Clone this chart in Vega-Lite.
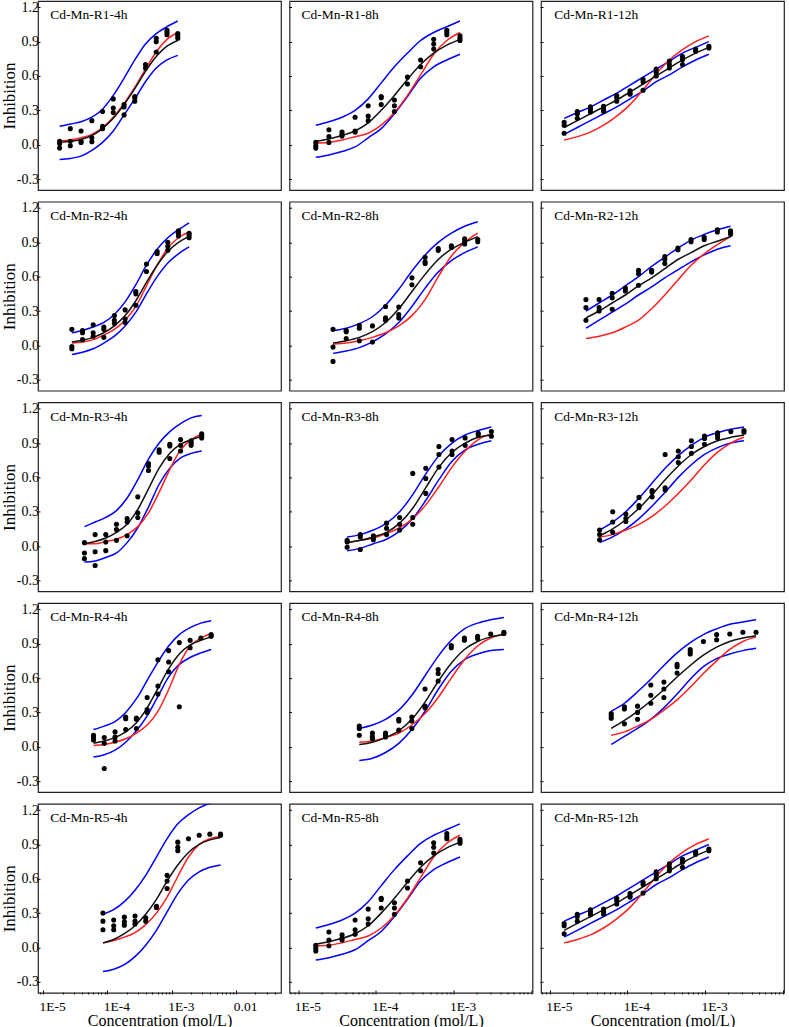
{
"$schema": "https://vega.github.io/schema/vega-lite/v6.json",
"padding": {"left": 0, "top": 0, "right": 0, "bottom": 0},
"spacing": 5.5,
"config": {
  "view": {"stroke": "#222", "strokeWidth": 1.2},
  "axis": {"labelFont": "Liberation Serif", "titleFont": "Liberation Serif", "labelColor": "#000", "titleColor": "#000", "titleFontWeight": "normal", "tickColor": "#000", "tickWidth": 1, "grid": false, "domain": false, "labelFlush": false, "labelOverlap": false},
  "text": {"font": "Liberation Serif"}
},
"datasets": {"d": [
{"run":"R1","t":"4h","name":"Cd-Mn-R1-4h","x":1.8e-5,"a":0.03,"b":0.01,"c":-0.03,"f":0.02,"r":0.03,"u":0.16,"l":-0.13},
{"run":"R1","t":"4h","x":2.64e-5,"a":0.14,"b":0.03,"c":-0.01,"f":0.03,"r":0.04,"u":0.18,"l":-0.12},
{"run":"R1","t":"4h","x":3.88e-5,"a":0.12,"b":0.03,"c":0.02,"f":0.045,"r":0.06,"u":0.20,"l":-0.10},
{"run":"R1","t":"4h","x":5.71e-5,"a":0.21,"b":0.06,"c":0.025,"f":0.08,"r":0.09,"u":0.24,"l":-0.05},
{"run":"R1","t":"4h","x":8.38e-5,"a":0.29,"b":0.16,"c":0.14,"f":0.14,"r":0.15,"u":0.31,"l":0.02},
{"run":"R1","t":"4h","x":1.23e-4,"a":0.40,"b":0.32,"c":0.28,"f":0.23,"r":0.24,"u":0.43,"l":0.12},
{"run":"R1","t":"4h","x":1.81e-4,"a":0.35,"b":0.33,"c":0.26,"f":0.35,"r":0.36,"u":0.58,"l":0.26},
{"run":"R1","t":"4h","x":2.66e-4,"a":0.42,"b":0.41,"c":0.38,"f":0.49,"r":0.50,"u":0.74,"l":0.40},
{"run":"R1","t":"4h","x":3.9e-4,"a":0.70,"b":0.67,"c":null,"f":0.64,"r":0.66,"u":0.88,"l":0.55},
{"run":"R1","t":"4h","x":5.73e-4,"a":0.93,"b":0.90,"c":0.81,"f":0.77,"r":0.81,"u":0.97,"l":0.67},
{"run":"R1","t":"4h","x":8.42e-4,"a":1.0,"b":0.98,"c":0.96,"f":0.86,"r":0.92,"u":1.03,"l":0.74},
{"run":"R1","t":"4h","x":1.24e-3,"a":0.97,"b":0.95,"c":0.93,"f":0.91,"r":0.98,"u":1.08,"l":0.78},

{"run":"R1","t":"8h","name":"Cd-Mn-R1-8h","x":1.68e-5,"a":0.02,"b":-0.01,"c":-0.03,"f":0.03,"r":0.015,"u":0.17,"l":-0.11},
{"run":"R1","t":"8h","x":2.48e-5,"a":0.13,"b":0.07,"c":0.02,"f":0.05,"r":0.02,"u":0.20,"l":-0.09},
{"run":"R1","t":"8h","x":3.66e-5,"a":0.11,"b":0.09,"c":0.075,"f":0.08,"r":0.04,"u":0.24,"l":-0.06},
{"run":"R1","t":"8h","x":5.39e-5,"a":0.24,"b":0.12,"c":0.11,"f":0.12,"r":0.07,"u":0.30,"l":-0.02},
{"run":"R1","t":"8h","x":7.95e-5,"a":0.34,"b":0.25,"c":0.21,"f":0.19,"r":0.10,"u":0.40,"l":0.06},
{"run":"R1","t":"8h","x":1.17e-4,"a":0.42,"b":0.41,"c":0.35,"f":0.30,"r":0.17,"u":0.54,"l":0.14},
{"run":"R1","t":"8h","x":1.73e-4,"a":0.39,"b":0.34,"c":0.29,"f":0.43,"r":0.28,"u":0.68,"l":0.27},
{"run":"R1","t":"8h","x":2.55e-4,"a":0.59,"b":0.53,"c":null,"f":0.57,"r":0.43,"u":0.80,"l":0.42},
{"run":"R1","t":"8h","x":3.76e-4,"a":0.74,"b":0.68,"c":null,"f":0.70,"r":0.61,"u":0.91,"l":0.58},
{"run":"R1","t":"8h","x":5.55e-4,"a":0.92,"b":0.88,"c":0.835,"f":0.80,"r":0.79,"u":0.98,"l":0.68},
{"run":"R1","t":"8h","x":8.19e-4,"a":1.0,"b":0.98,"c":0.96,"f":0.87,"r":0.91,"u":1.03,"l":0.74},
{"run":"R1","t":"8h","x":1.21e-3,"a":0.95,"b":0.93,"c":0.91,"f":0.92,"r":0.98,"u":1.08,"l":0.79},

{"run":"R1","t":"12h","name":"Cd-Mn-R1-12h","x":1.53e-5,"a":0.195,"b":0.17,"c":0.10,"f":0.15,"r":0.04,"u":0.23,"l":0.09},
{"run":"R1","t":"12h","x":2.26e-5,"a":0.29,"b":0.27,"c":0.23,"f":0.21,"r":0.07,"u":0.28,"l":0.15},
{"run":"R1","t":"12h","x":3.34e-5,"a":0.33,"b":0.31,"c":0.285,"f":0.27,"r":0.11,"u":0.33,"l":0.21},
{"run":"R1","t":"12h","x":4.93e-5,"a":0.335,"b":0.31,"c":0.29,"f":0.33,"r":0.17,"u":0.39,"l":0.27},
{"run":"R1","t":"12h","x":7.28e-5,"a":0.43,"b":0.41,"c":0.38,"f":0.39,"r":0.25,"u":0.45,"l":0.33},
{"run":"R1","t":"12h","x":1.08e-4,"a":0.47,"b":0.45,"c":0.44,"f":0.46,"r":0.35,"u":0.52,"l":0.40},
{"run":"R1","t":"12h","x":1.59e-4,"a":0.57,"b":0.55,"c":0.475,"f":0.53,"r":0.48,"u":0.59,"l":0.47},
{"run":"R1","t":"12h","x":2.35e-4,"a":0.66,"b":0.63,"c":0.60,"f":0.60,"r":0.62,"u":0.66,"l":0.55},
{"run":"R1","t":"12h","x":3.47e-4,"a":0.73,"b":0.70,"c":0.67,"f":0.67,"r":0.74,"u":0.73,"l":0.61},
{"run":"R1","t":"12h","x":5.12e-4,"a":0.77,"b":0.745,"c":0.70,"f":0.74,"r":0.83,"u":0.80,"l":0.68},
{"run":"R1","t":"12h","x":7.57e-4,"a":0.835,"b":0.815,"c":null,"f":0.80,"r":0.90,"u":0.85,"l":0.74},
{"run":"R1","t":"12h","x":1.12e-3,"a":0.86,"b":0.845,"c":null,"f":0.85,"r":0.95,"u":0.90,"l":0.79},

{"run":"R2","t":"4h","name":"Cd-Mn-R2-4h","x":2.79e-5,"a":0.14,"b":-0.01,"c":-0.03,"f":0.03,"r":0.02,"u":0.11,"l":-0.08},
{"run":"R2","t":"4h","x":4.09e-5,"a":0.13,"b":0.11,"c":0.05,"f":0.045,"r":0.03,"u":0.13,"l":-0.06},
{"run":"R2","t":"4h","x":5.99e-5,"a":0.18,"b":0.11,"c":0.08,"f":0.07,"r":0.05,"u":0.16,"l":-0.03},
{"run":"R2","t":"4h","x":8.77e-5,"a":0.16,"b":0.14,"c":0.07,"f":0.11,"r":0.09,"u":0.20,"l":0.02},
{"run":"R2","t":"4h","x":1.28e-4,"a":0.26,"b":0.22,"c":0.19,"f":0.17,"r":0.14,"u":0.27,"l":0.08},
{"run":"R2","t":"4h","x":1.88e-4,"a":0.31,"b":0.23,"c":0.20,"f":0.26,"r":0.22,"u":0.38,"l":0.17},
{"run":"R2","t":"4h","x":2.76e-4,"a":0.47,"b":0.45,"c":0.35,"f":0.39,"r":0.34,"u":0.53,"l":0.29},
{"run":"R2","t":"4h","x":4.04e-4,"a":0.71,"b":0.645,"c":null,"f":0.55,"r":0.52,"u":0.70,"l":0.45},
{"run":"R2","t":"4h","x":5.92e-4,"a":0.82,"b":0.80,"c":null,"f":0.70,"r":0.70,"u":0.84,"l":0.60},
{"run":"R2","t":"4h","x":8.67e-4,"a":0.90,"b":0.865,"c":0.83,"f":0.82,"r":0.85,"u":0.94,"l":0.72},
{"run":"R2","t":"4h","x":1.27e-3,"a":1.0,"b":0.98,"c":0.955,"f":0.90,"r":0.94,"u":1.01,"l":0.80},
{"run":"R2","t":"4h","x":1.86e-3,"a":0.98,"b":0.96,"c":0.94,"f":0.95,"r":0.99,"u":1.07,"l":0.86},

{"run":"R2","t":"8h","name":"Cd-Mn-R2-8h","x":2.8e-5,"a":0.14,"b":-0.015,"c":-0.14,"f":0.02,"r":0.01,"u":0.13,"l":-0.07},
{"run":"R2","t":"8h","x":4.14e-5,"a":0.13,"b":0.12,"c":0.06,"f":0.04,"r":0.02,"u":0.15,"l":-0.05},
{"run":"R2","t":"8h","x":6.11e-5,"a":0.175,"b":0.15,"c":0.04,"f":0.07,"r":0.04,"u":0.19,"l":-0.02},
{"run":"R2","t":"8h","x":9.02e-5,"a":0.17,"b":0.03,"c":null,"f":0.12,"r":0.07,"u":0.25,"l":0.03},
{"run":"R2","t":"8h","x":1.33e-4,"a":0.34,"b":0.24,"c":0.22,"f":0.20,"r":0.11,"u":0.35,"l":0.10},
{"run":"R2","t":"8h","x":1.97e-4,"a":0.335,"b":0.27,"c":0.24,"f":0.32,"r":0.17,"u":0.49,"l":0.20},
{"run":"R2","t":"8h","x":2.91e-4,"a":0.59,"b":0.53,"c":null,"f":0.47,"r":0.26,"u":0.65,"l":0.34},
{"run":"R2","t":"8h","x":4.3e-4,"a":0.77,"b":0.73,"c":0.715,"f":0.62,"r":0.40,"u":0.79,"l":0.50},
{"run":"R2","t":"8h","x":6.35e-4,"a":0.845,"b":0.83,"c":null,"f":0.75,"r":0.60,"u":0.90,"l":0.64},
{"run":"R2","t":"8h","x":9.38e-4,"a":0.87,"b":0.855,"c":null,"f":0.84,"r":0.78,"u":0.98,"l":0.74},
{"run":"R2","t":"8h","x":1.39e-3,"a":0.93,"b":0.905,"c":0.885,"f":0.90,"r":0.90,"u":1.04,"l":0.81},
{"run":"R2","t":"8h","x":2.05e-3,"a":0.925,"b":0.905,"c":null,"f":0.95,"r":0.98,"u":1.08,"l":0.86},

{"run":"R2","t":"12h","name":"Cd-Mn-R2-12h","x":2.92e-5,"a":0.40,"b":0.33,"c":0.22,"f":0.24,"r":0.06,"u":0.30,"l":0.15},
{"run":"R2","t":"12h","x":4.31e-5,"a":0.40,"b":0.33,"c":0.30,"f":0.30,"r":0.08,"u":0.37,"l":0.22},
{"run":"R2","t":"12h","x":6.37e-5,"a":0.455,"b":0.415,"c":0.315,"f":0.37,"r":0.11,"u":0.44,"l":0.29},
{"run":"R2","t":"12h","x":9.4e-5,"a":0.50,"b":0.475,"c":null,"f":0.44,"r":0.16,"u":0.52,"l":0.36},
{"run":"R2","t":"12h","x":1.39e-4,"a":0.655,"b":0.625,"c":0.525,"f":0.52,"r":0.22,"u":0.60,"l":0.44},
{"run":"R2","t":"12h","x":2.05e-4,"a":0.655,"b":0.64,"c":null,"f":0.59,"r":0.32,"u":0.69,"l":0.51},
{"run":"R2","t":"12h","x":3.03e-4,"a":0.775,"b":0.75,"c":0.715,"f":0.67,"r":0.44,"u":0.77,"l":0.59},
{"run":"R2","t":"12h","x":4.47e-4,"a":0.85,"b":0.835,"c":null,"f":0.75,"r":0.57,"u":0.85,"l":0.66},
{"run":"R2","t":"12h","x":6.6e-4,"a":0.925,"b":0.905,"c":null,"f":0.81,"r":0.70,"u":0.92,"l":0.73},
{"run":"R2","t":"12h","x":9.75e-4,"a":0.945,"b":0.925,"c":null,"f":0.87,"r":0.80,"u":0.97,"l":0.79},
{"run":"R2","t":"12h","x":1.44e-3,"a":1.01,"b":0.99,"c":null,"f":0.91,"r":0.88,"u":1.01,"l":0.84},
{"run":"R2","t":"12h","x":2.13e-3,"a":1.0,"b":0.985,"c":0.97,"f":0.95,"r":0.95,"u":1.04,"l":0.87},

{"run":"R3","t":"4h","name":"Cd-Mn-R3-4h","x":4.38e-5,"a":0.03,"b":-0.06,"c":-0.11,"f":0.02,"r":0.02,"u":0.17,"l":-0.14},
{"run":"R3","t":"4h","x":6.42e-5,"a":0.10,"b":-0.05,"c":-0.17,"f":0.04,"r":0.02,"u":0.21,"l":-0.13},
{"run":"R3","t":"4h","x":9.41e-5,"a":0.10,"b":0.035,"c":-0.04,"f":0.07,"r":0.04,"u":0.25,"l":-0.10},
{"run":"R3","t":"4h","x":1.38e-4,"a":0.19,"b":0.145,"c":0.05,"f":0.12,"r":0.06,"u":0.31,"l":-0.06},
{"run":"R3","t":"4h","x":2.02e-4,"a":0.24,"b":0.21,"c":0.09,"f":0.19,"r":0.10,"u":0.42,"l":0.03},
{"run":"R3","t":"4h","x":2.96e-4,"a":0.43,"b":0.29,"c":0.25,"f":0.32,"r":0.17,"u":0.58,"l":0.16},
{"run":"R3","t":"4h","x":4.34e-4,"a":0.72,"b":0.70,"c":0.66,"f":0.50,"r":0.29,"u":0.76,"l":0.34},
{"run":"R3","t":"4h","x":6.36e-4,"a":0.84,"b":0.82,"c":null,"f":0.68,"r":0.47,"u":0.90,"l":0.54},
{"run":"R3","t":"4h","x":9.32e-4,"a":0.89,"b":0.875,"c":0.765,"f":0.81,"r":0.67,"u":1.00,"l":0.68},
{"run":"R3","t":"4h","x":1.37e-3,"a":0.93,"b":0.88,"c":0.83,"f":0.89,"r":0.84,"u":1.07,"l":0.77},
{"run":"R3","t":"4h","x":2.0e-3,"a":0.92,"b":0.90,"c":0.88,"f":0.93,"r":0.93,"u":1.12,"l":0.81},
{"run":"R3","t":"4h","x":2.92e-3,"a":0.98,"b":0.965,"c":0.945,"f":0.96,"r":0.98,"u":1.14,"l":0.83},

{"run":"R3","t":"8h","name":"Cd-Mn-R3-8h","x":4.26e-5,"a":0.05,"b":0.035,"c":-0.01,"f":0.03,"r":0.03,"u":0.08,"l":-0.04},
{"run":"R3","t":"8h","x":6.29e-5,"a":0.10,"b":0.08,"c":-0.03,"f":0.05,"r":0.05,"u":0.10,"l":-0.02},
{"run":"R3","t":"8h","x":9.27e-5,"a":0.09,"b":0.07,"c":0.055,"f":0.08,"r":0.07,"u":0.14,"l":0.02},
{"run":"R3","t":"8h","x":1.37e-4,"a":0.20,"b":0.155,"c":0.10,"f":0.12,"r":0.11,"u":0.20,"l":0.06},
{"run":"R3","t":"8h","x":2.02e-4,"a":0.25,"b":0.19,"c":0.14,"f":0.20,"r":0.16,"u":0.30,"l":0.13},
{"run":"R3","t":"8h","x":2.98e-4,"a":0.635,"b":0.25,"c":0.19,"f":0.33,"r":0.24,"u":0.45,"l":0.24},
{"run":"R3","t":"8h","x":4.39e-4,"a":0.68,"b":0.59,"c":0.46,"f":0.51,"r":0.36,"u":0.63,"l":0.40},
{"run":"R3","t":"8h","x":6.48e-4,"a":0.87,"b":0.80,"c":0.69,"f":0.69,"r":0.52,"u":0.79,"l":0.58},
{"run":"R3","t":"8h","x":9.56e-4,"a":0.93,"b":0.83,"c":0.80,"f":0.82,"r":0.69,"u":0.90,"l":0.74},
{"run":"R3","t":"8h","x":1.41e-3,"a":0.945,"b":0.88,"c":null,"f":0.90,"r":0.83,"u":0.97,"l":0.84},
{"run":"R3","t":"8h","x":2.08e-3,"a":0.985,"b":0.97,"c":null,"f":0.95,"r":0.93,"u":1.01,"l":0.89},
{"run":"R3","t":"8h","x":3.07e-3,"a":1.0,"b":0.96,"c":null,"f":0.97,"r":0.98,"u":1.04,"l":0.92},

{"run":"R3","t":"12h","name":"Cd-Mn-R3-12h","x":4.38e-5,"a":0.14,"b":0.10,"c":0.055,"f":0.09,"r":0.08,"u":0.14,"l":0.03},
{"run":"R3","t":"12h","x":6.46e-5,"a":0.30,"b":0.21,"c":0.12,"f":0.15,"r":0.10,"u":0.21,"l":0.08},
{"run":"R3","t":"12h","x":9.54e-5,"a":0.28,"b":0.24,"c":0.215,"f":0.23,"r":0.14,"u":0.30,"l":0.15},
{"run":"R3","t":"12h","x":1.41e-4,"a":0.425,"b":0.355,"c":0.335,"f":0.33,"r":0.19,"u":0.42,"l":0.24},
{"run":"R3","t":"12h","x":2.08e-4,"a":0.485,"b":0.47,"c":0.43,"f":0.45,"r":0.26,"u":0.55,"l":0.35},
{"run":"R3","t":"12h","x":3.06e-4,"a":0.80,"b":0.51,"c":0.49,"f":0.58,"r":0.35,"u":0.68,"l":0.47},
{"run":"R3","t":"12h","x":4.52e-4,"a":0.83,"b":0.78,"c":0.73,"f":0.70,"r":0.46,"u":0.79,"l":0.60},
{"run":"R3","t":"12h","x":6.67e-4,"a":0.92,"b":0.87,"c":0.81,"f":0.80,"r":0.58,"u":0.88,"l":0.71},
{"run":"R3","t":"12h","x":9.84e-4,"a":0.96,"b":0.94,"c":0.89,"f":0.87,"r":0.71,"u":0.95,"l":0.80},
{"run":"R3","t":"12h","x":1.45e-3,"a":0.99,"b":0.97,"c":0.945,"f":0.92,"r":0.82,"u":0.99,"l":0.86},
{"run":"R3","t":"12h","x":2.15e-3,"a":1.0,"b":null,"c":null,"f":0.95,"r":0.90,"u":1.02,"l":0.90},
{"run":"R3","t":"12h","x":3.17e-3,"a":1.01,"b":0.995,"c":null,"f":0.97,"r":0.95,"u":1.04,"l":0.92},

{"run":"R4","t":"4h","name":"Cd-Mn-R4-4h","x":6.06e-5,"a":0.10,"b":0.085,"c":0.06,"f":0.03,"r":0.01,"u":0.15,"l":-0.09},
{"run":"R4","t":"4h","x":8.9e-5,"a":0.08,"b":0.03,"c":-0.19,"f":0.05,"r":0.02,"u":0.18,"l":-0.07},
{"run":"R4","t":"4h","x":1.31e-4,"a":0.13,"b":0.085,"c":0.05,"f":0.08,"r":0.04,"u":0.22,"l":-0.03},
{"run":"R4","t":"4h","x":1.92e-4,"a":0.26,"b":0.245,"c":0.15,"f":0.13,"r":0.07,"u":0.30,"l":0.04},
{"run":"R4","t":"4h","x":2.82e-4,"a":0.25,"b":0.24,"c":0.16,"f":0.21,"r":0.12,"u":0.42,"l":0.14},
{"run":"R4","t":"4h","x":4.14e-4,"a":0.43,"b":0.325,"c":0.30,"f":0.34,"r":0.19,"u":0.58,"l":0.27},
{"run":"R4","t":"4h","x":6.09e-4,"a":0.76,"b":0.53,"c":0.46,"f":0.51,"r":0.31,"u":0.74,"l":0.44},
{"run":"R4","t":"4h","x":8.94e-4,"a":0.84,"b":0.74,"c":0.655,"f":0.68,"r":0.50,"u":0.88,"l":0.61},
{"run":"R4","t":"4h","x":1.31e-3,"a":0.91,"b":0.35,"c":null,"f":0.81,"r":0.72,"u":0.98,"l":0.72},
{"run":"R4","t":"4h","x":1.93e-3,"a":0.93,"b":0.865,"c":null,"f":0.89,"r":0.88,"u":1.04,"l":0.78},
{"run":"R4","t":"4h","x":2.83e-3,"a":0.95,"b":null,"c":null,"f":0.93,"r":0.95,"u":1.08,"l":0.82},
{"run":"R4","t":"4h","x":4.1e-3,"a":0.98,"b":0.965,"c":null,"f":0.96,"r":0.99,"u":1.10,"l":0.85},

{"run":"R4","t":"8h","name":"Cd-Mn-R4-8h","x":6.1e-5,"a":0.18,"b":0.16,"c":0.10,"f":0.02,"r":0.04,"u":0.16,"l":-0.12},
{"run":"R4","t":"8h","x":9.01e-5,"a":0.12,"b":0.09,"c":0.07,"f":0.04,"r":0.05,"u":0.19,"l":-0.10},
{"run":"R4","t":"8h","x":1.33e-4,"a":0.12,"b":0.10,"c":0.085,"f":0.08,"r":0.08,"u":0.24,"l":-0.05},
{"run":"R4","t":"8h","x":1.97e-4,"a":0.24,"b":0.225,"c":0.145,"f":0.14,"r":0.12,"u":0.32,"l":0.03},
{"run":"R4","t":"8h","x":2.9e-4,"a":0.26,"b":0.225,"c":0.16,"f":0.24,"r":0.19,"u":0.45,"l":0.15},
{"run":"R4","t":"8h","x":4.29e-4,"a":0.505,"b":0.355,"c":0.34,"f":0.39,"r":0.29,"u":0.62,"l":0.31},
{"run":"R4","t":"8h","x":6.33e-4,"a":0.675,"b":0.64,"c":0.575,"f":0.57,"r":0.43,"u":0.79,"l":0.50},
{"run":"R4","t":"8h","x":9.35e-4,"a":0.885,"b":0.865,"c":null,"f":0.73,"r":0.60,"u":0.93,"l":0.66},
{"run":"R4","t":"8h","x":1.38e-3,"a":0.95,"b":0.93,"c":null,"f":0.85,"r":0.76,"u":1.03,"l":0.76},
{"run":"R4","t":"8h","x":2.04e-3,"a":0.965,"b":0.945,"c":null,"f":0.92,"r":0.88,"u":1.08,"l":0.81},
{"run":"R4","t":"8h","x":3.01e-3,"a":0.985,"b":null,"c":null,"f":0.96,"r":0.95,"u":1.11,"l":0.84},
{"run":"R4","t":"8h","x":4.45e-3,"a":1.0,"b":0.99,"c":null,"f":0.98,"r":0.98,"u":1.13,"l":0.85},

{"run":"R4","t":"12h","name":"Cd-Mn-R4-12h","x":6.18e-5,"a":0.29,"b":0.27,"c":0.25,"f":0.16,"r":0.10,"u":0.31,"l":0.02},
{"run":"R4","t":"12h","x":9.14e-5,"a":0.35,"b":0.33,"c":0.20,"f":0.23,"r":0.13,"u":0.38,"l":0.09},
{"run":"R4","t":"12h","x":1.35e-4,"a":0.355,"b":0.30,"c":0.24,"f":0.31,"r":0.18,"u":0.48,"l":0.16},
{"run":"R4","t":"12h","x":2.0e-4,"a":0.54,"b":0.45,"c":0.38,"f":0.40,"r":0.24,"u":0.59,"l":0.24},
{"run":"R4","t":"12h","x":2.95e-4,"a":0.565,"b":0.505,"c":0.43,"f":0.50,"r":0.32,"u":0.71,"l":0.34},
{"run":"R4","t":"12h","x":4.36e-4,"a":0.72,"b":0.70,"c":0.645,"f":0.61,"r":0.41,"u":0.82,"l":0.46},
{"run":"R4","t":"12h","x":6.44e-4,"a":0.85,"b":0.83,"c":0.81,"f":0.71,"r":0.52,"u":0.91,"l":0.59},
{"run":"R4","t":"12h","x":9.52e-4,"a":0.92,"b":null,"c":null,"f":0.80,"r":0.64,"u":0.98,"l":0.70},
{"run":"R4","t":"12h","x":1.41e-3,"a":0.98,"b":0.935,"c":null,"f":0.87,"r":0.75,"u":1.03,"l":0.77},
{"run":"R4","t":"12h","x":2.08e-3,"a":0.985,"b":null,"c":null,"f":0.92,"r":0.85,"u":1.07,"l":0.81},
{"run":"R4","t":"12h","x":3.07e-3,"a":1.0,"b":null,"c":null,"f":0.95,"r":0.92,"u":1.09,"l":0.84},
{"run":"R4","t":"12h","x":4.54e-3,"a":1.0,"b":null,"c":null,"f":0.97,"r":0.96,"u":1.11,"l":0.86},

{"run":"R5","t":"4h","name":"Cd-Mn-R5-4h","x":8.5e-5,"a":0.30,"b":0.23,"c":0.155,"f":0.04,"r":0.04,"u":0.29,"l":-0.21},
{"run":"R5","t":"4h","x":1.25e-4,"a":0.24,"b":0.19,"c":0.155,"f":0.07,"r":0.06,"u":0.33,"l":-0.19},
{"run":"R5","t":"4h","x":1.83e-4,"a":0.265,"b":0.225,"c":0.195,"f":0.12,"r":0.09,"u":0.40,"l":-0.15},
{"run":"R5","t":"4h","x":2.68e-4,"a":0.275,"b":0.23,"c":0.205,"f":0.19,"r":0.13,"u":0.50,"l":-0.08},
{"run":"R5","t":"4h","x":3.93e-4,"a":0.26,"b":0.23,"c":null,"f":0.29,"r":0.20,"u":0.63,"l":0.02},
{"run":"R5","t":"4h","x":5.77e-4,"a":0.36,"b":0.35,"c":null,"f":0.42,"r":0.30,"u":0.79,"l":0.15},
{"run":"R5","t":"4h","x":8.46e-4,"a":0.63,"b":0.58,"c":0.515,"f":0.58,"r":0.44,"u":0.95,"l":0.31},
{"run":"R5","t":"4h","x":1.24e-3,"a":0.92,"b":0.875,"c":0.845,"f":0.72,"r":0.62,"u":1.08,"l":0.47},
{"run":"R5","t":"4h","x":1.82e-3,"a":0.95,"b":null,"c":null,"f":0.83,"r":0.79,"u":1.16,"l":0.59},
{"run":"R5","t":"4h","x":2.67e-3,"a":0.98,"b":null,"c":null,"f":0.90,"r":0.90,"u":1.22,"l":0.66},
{"run":"R5","t":"4h","x":3.91e-3,"a":0.99,"b":null,"c":null,"f":0.94,"r":0.95,"u":1.26,"l":0.70},
{"run":"R5","t":"4h","x":5.74e-3,"a":0.99,"b":0.98,"c":null,"f":0.96,"r":0.97,"u":1.29,"l":0.72},

{"run":"R5","t":"8h","name":"Cd-Mn-R5-8h","x":1.68e-5,"a":0.02,"b":-0.005,"c":-0.03,"f":0.03,"r":0.015,"u":0.17,"l":-0.11},
{"run":"R5","t":"8h","x":2.48e-5,"a":0.135,"b":0.065,"c":0.015,"f":0.05,"r":0.02,"u":0.20,"l":-0.09},
{"run":"R5","t":"8h","x":3.66e-5,"a":0.11,"b":0.08,"c":0.065,"f":0.08,"r":0.04,"u":0.24,"l":-0.06},
{"run":"R5","t":"8h","x":5.39e-5,"a":0.24,"b":0.155,"c":0.115,"f":0.12,"r":0.07,"u":0.30,"l":-0.02},
{"run":"R5","t":"8h","x":7.95e-5,"a":0.335,"b":0.25,"c":0.205,"f":0.19,"r":0.10,"u":0.40,"l":0.06},
{"run":"R5","t":"8h","x":1.17e-4,"a":0.43,"b":0.42,"c":0.345,"f":0.30,"r":0.17,"u":0.54,"l":0.14},
{"run":"R5","t":"8h","x":1.73e-4,"a":0.39,"b":0.345,"c":0.29,"f":0.43,"r":0.28,"u":0.68,"l":0.27},
{"run":"R5","t":"8h","x":2.55e-4,"a":0.58,"b":0.52,"c":null,"f":0.57,"r":0.43,"u":0.80,"l":0.42},
{"run":"R5","t":"8h","x":3.76e-4,"a":0.74,"b":0.67,"c":null,"f":0.70,"r":0.61,"u":0.91,"l":0.58},
{"run":"R5","t":"8h","x":5.55e-4,"a":0.915,"b":0.875,"c":0.825,"f":0.80,"r":0.79,"u":0.98,"l":0.68},
{"run":"R5","t":"8h","x":8.19e-4,"a":0.995,"b":0.97,"c":0.95,"f":0.87,"r":0.91,"u":1.03,"l":0.74},
{"run":"R5","t":"8h","x":1.21e-3,"a":0.945,"b":0.93,"c":0.91,"f":0.92,"r":0.98,"u":1.08,"l":0.79},

{"run":"R5","t":"12h","name":"Cd-Mn-R5-12h","x":1.53e-5,"a":0.21,"b":0.19,"c":0.12,"f":0.15,"r":0.04,"u":0.23,"l":0.09},
{"run":"R5","t":"12h","x":2.26e-5,"a":0.29,"b":0.27,"c":0.23,"f":0.21,"r":0.07,"u":0.28,"l":0.15},
{"run":"R5","t":"12h","x":3.34e-5,"a":0.33,"b":0.31,"c":0.285,"f":0.27,"r":0.11,"u":0.33,"l":0.21},
{"run":"R5","t":"12h","x":4.93e-5,"a":0.335,"b":0.31,"c":0.29,"f":0.33,"r":0.17,"u":0.39,"l":0.27},
{"run":"R5","t":"12h","x":7.28e-5,"a":0.43,"b":0.41,"c":0.38,"f":0.39,"r":0.25,"u":0.45,"l":0.33},
{"run":"R5","t":"12h","x":1.08e-4,"a":0.47,"b":0.45,"c":0.44,"f":0.46,"r":0.35,"u":0.52,"l":0.40},
{"run":"R5","t":"12h","x":1.59e-4,"a":0.57,"b":0.55,"c":0.475,"f":0.53,"r":0.48,"u":0.59,"l":0.47},
{"run":"R5","t":"12h","x":2.35e-4,"a":0.66,"b":0.63,"c":0.60,"f":0.60,"r":0.62,"u":0.66,"l":0.55},
{"run":"R5","t":"12h","x":3.47e-4,"a":0.73,"b":0.70,"c":0.67,"f":0.67,"r":0.74,"u":0.73,"l":0.61},
{"run":"R5","t":"12h","x":5.12e-4,"a":0.77,"b":0.745,"c":0.70,"f":0.74,"r":0.83,"u":0.80,"l":0.68},
{"run":"R5","t":"12h","x":7.57e-4,"a":0.835,"b":0.815,"c":null,"f":0.80,"r":0.90,"u":0.85,"l":0.74},
{"run":"R5","t":"12h","x":1.12e-3,"a":0.86,"b":0.845,"c":null,"f":0.85,"r":0.95,"u":0.90,"l":0.79}
]},
"hconcat": [
{
 "data": {"name": "d"},
 "transform": [{"filter": "datum.t == '4h'"}],
 "facet": {"row": {"field": "run", "type": "nominal", "header": null}},
 "spacing": 9.7,
 "spec": {
  "width": 243, "height": 189,
  "layer": [
   {"transform": [{"fold": ["u","l","r","f"], "as": ["s","v"]}, {"filter": "isValid(datum.v)"}],
    "mark": {"type": "line", "interpolate": "monotone", "clip": true},
    "encoding": {
     "x": {"field": "x", "type": "quantitative", "scale": {"type": "log", "domain": [8.3e-6, 0.05], "nice": false},
       "axis": {"values": [9e-6,1e-5,2e-5,3e-5,4e-5,5e-5,6e-5,7e-5,8e-5,9e-5,1e-4,2e-4,3e-4,4e-4,5e-4,6e-4,7e-4,8e-4,9e-4,0.001,0.002,0.003,0.004,0.005,0.006,0.007,0.008,0.009,0.01,0.02,0.03,0.04],
         "tickCount": 100,
         "labelExpr": "abs(log(datum.value)/LN10 - round(log(datum.value)/LN10)) > 0.01 ? '' : datum.value > 0.005 ? '0.01' : '1E' + round(log(datum.value)/LN10)",
         "tickSize": {"condition": {"test": "abs(log(datum.value)/LN10 - round(log(datum.value)/LN10)) < 0.01", "value": -4}, "value": -2},
         "labelOffset": {"condition": {"test": "abs(log(datum.value)/LN10 - round(log(datum.value)/LN10)) < 0.01", "value": 9}, "value": 0},
         "labelOverlap": false,
         "title": "Concentration (mol/L)", "titleFontSize": 16, "labelFontSize": 13.5, "labelPadding": 9, "titlePadding": -2.5}},
     "y": {"field": "v", "type": "quantitative", "scale": {"domain": [-0.396, 1.255], "nice": false, "zero": false},
       "axis": {"values": [-0.3,0,0.3,0.6,0.9,1.2], "tickCount": 20, "labelExpr": "datum.value < -0.2 ? '-0.3' : format(datum.value, '.1f')", "labelOverlap": false, "title": "Inhibition", "titleFontSize": 17, "labelFontSize": 14, "tickSize": -3, "labelPadding": 1.6, "titlePadding": -2}},
     "color": {"field": "s", "type": "nominal", "scale": {"domain": ["u","l","r","f"], "range": ["#0000ff","#0000ff","#ff2020","#111111"]}, "legend": null},
     "strokeWidth": {"field": "s", "type": "nominal", "scale": {"domain": ["u","l","r","f"], "range": [1.5,1.5,1,0.8]}, "legend": null}
    }},
   {"transform": [{"fold": ["a","b","c"], "as": ["s","v"]}, {"filter": "isValid(datum.v)"}],
    "mark": {"type": "circle", "color": "#000", "opacity": 1, "size": 26},
    "encoding": {"x": {"field": "x", "type": "quantitative"}, "y": {"field": "v", "type": "quantitative"}}},
   {"transform": [{"filter": "isValid(datum.name)"}],
    "mark": {"type": "text", "align": "left", "baseline": "middle", "fontSize": 13.5, "color": "#000"},
    "encoding": {"x": {"datum": 1.29e-5, "type": "quantitative"}, "y": {"datum": 1.13, "type": "quantitative"}, "text": {"field": "name"}}}
  ]
 }
},
{
 "data": {"name": "d"},
 "transform": [{"filter": "datum.t == '8h'"}],
 "facet": {"row": {"field": "run", "type": "nominal", "header": null}},
 "spacing": 9.7,
 "spec": {
  "width": 243, "height": 189,
  "layer": [
   {"transform": [{"fold": ["u","l","r","f"], "as": ["s","v"]}, {"filter": "isValid(datum.v)"}],
    "mark": {"type": "line", "interpolate": "monotone", "clip": true},
    "encoding": {
     "x": {"field": "x", "type": "quantitative", "scale": {"type": "log", "domain": [7.7e-6, 0.0104], "nice": false},
       "axis": {"values": [8e-6,9e-6,1e-5,2e-5,3e-5,4e-5,5e-5,6e-5,7e-5,8e-5,9e-5,1e-4,2e-4,3e-4,4e-4,5e-4,6e-4,7e-4,8e-4,9e-4,0.001,0.002,0.003,0.004,0.005,0.006,0.007,0.008,0.009,0.01],
         "tickCount": 100,
         "labelExpr": "abs(log(datum.value)/LN10 - round(log(datum.value)/LN10)) > 0.01 || datum.value > 0.005 ? '' : '1E' + round(log(datum.value)/LN10)",
         "tickSize": {"condition": {"test": "abs(log(datum.value)/LN10 - round(log(datum.value)/LN10)) < 0.01", "value": -4}, "value": -2},
         "labelOffset": {"condition": {"test": "abs(log(datum.value)/LN10 - round(log(datum.value)/LN10)) < 0.01 && datum.value < 0.005", "value": 9}, "value": 0},
         "labelOverlap": false,
         "title": "Concentration (mol/L)", "titleFontSize": 16, "labelFontSize": 13.5, "labelPadding": 9, "titlePadding": -2.5}},
     "y": {"field": "v", "type": "quantitative", "scale": {"domain": [-0.396, 1.255], "nice": false, "zero": false},
       "axis": {"values": [-0.3,0,0.3,0.6,0.9,1.2], "tickCount": 20, "labels": false, "title": null, "tickSize": -3}},
     "color": {"field": "s", "type": "nominal", "scale": {"domain": ["u","l","r","f"], "range": ["#0000ff","#0000ff","#ff2020","#111111"]}, "legend": null},
     "strokeWidth": {"field": "s", "type": "nominal", "scale": {"domain": ["u","l","r","f"], "range": [1.5,1.5,1,0.8]}, "legend": null}
    }},
   {"transform": [{"fold": ["a","b","c"], "as": ["s","v"]}, {"filter": "isValid(datum.v)"}],
    "mark": {"type": "circle", "color": "#000", "opacity": 1, "size": 26},
    "encoding": {"x": {"field": "x", "type": "quantitative"}, "y": {"field": "v", "type": "quantitative"}}},
   {"transform": [{"filter": "isValid(datum.name)"}],
    "mark": {"type": "text", "align": "left", "baseline": "middle", "fontSize": 13.5, "color": "#000"},
    "encoding": {"x": {"datum": 1.1e-5, "type": "quantitative"}, "y": {"datum": 1.13, "type": "quantitative"}, "text": {"field": "name"}}}
  ]
 }
},
{
 "data": {"name": "d"},
 "transform": [{"filter": "datum.t == '12h'"}],
 "facet": {"row": {"field": "run", "type": "nominal", "header": null}},
 "spacing": 9.7,
 "spec": {
  "width": 243, "height": 189,
  "layer": [
   {"transform": [{"fold": ["u","l","r","f"], "as": ["s","v"]}, {"filter": "isValid(datum.v)"}],
    "mark": {"type": "line", "interpolate": "monotone", "clip": true},
    "encoding": {
     "x": {"field": "x", "type": "quantitative", "scale": {"type": "log", "domain": [7.7e-6, 0.0104], "nice": false},
       "axis": {"values": [8e-6,9e-6,1e-5,2e-5,3e-5,4e-5,5e-5,6e-5,7e-5,8e-5,9e-5,1e-4,2e-4,3e-4,4e-4,5e-4,6e-4,7e-4,8e-4,9e-4,0.001,0.002,0.003,0.004,0.005,0.006,0.007,0.008,0.009,0.01],
         "tickCount": 100,
         "labelExpr": "abs(log(datum.value)/LN10 - round(log(datum.value)/LN10)) > 0.01 || datum.value > 0.005 ? '' : '1E' + round(log(datum.value)/LN10)",
         "tickSize": {"condition": {"test": "abs(log(datum.value)/LN10 - round(log(datum.value)/LN10)) < 0.01", "value": -4}, "value": -2},
         "labelOffset": {"condition": {"test": "abs(log(datum.value)/LN10 - round(log(datum.value)/LN10)) < 0.01 && datum.value < 0.005", "value": 9}, "value": 0},
         "labelOverlap": false,
         "title": "Concentration (mol/L)", "titleFontSize": 16, "labelFontSize": 13.5, "labelPadding": 9, "titlePadding": -2.5}},
     "y": {"field": "v", "type": "quantitative", "scale": {"domain": [-0.396, 1.255], "nice": false, "zero": false},
       "axis": {"values": [-0.3,0,0.3,0.6,0.9,1.2], "tickCount": 20, "labels": false, "title": null, "tickSize": -3}},
     "color": {"field": "s", "type": "nominal", "scale": {"domain": ["u","l","r","f"], "range": ["#0000ff","#0000ff","#ff2020","#111111"]}, "legend": null},
     "strokeWidth": {"field": "s", "type": "nominal", "scale": {"domain": ["u","l","r","f"], "range": [1.5,1.5,1,0.8]}, "legend": null}
    }},
   {"transform": [{"fold": ["a","b","c"], "as": ["s","v"]}, {"filter": "isValid(datum.v)"}],
    "mark": {"type": "circle", "color": "#000", "opacity": 1, "size": 26},
    "encoding": {"x": {"field": "x", "type": "quantitative"}, "y": {"field": "v", "type": "quantitative"}}},
   {"transform": [{"filter": "isValid(datum.name)"}],
    "mark": {"type": "text", "align": "left", "baseline": "middle", "fontSize": 13.5, "color": "#000"},
    "encoding": {"x": {"datum": 1.14e-5, "type": "quantitative"}, "y": {"datum": 1.13, "type": "quantitative"}, "text": {"field": "name"}}}
  ]
 }
}
]
}
